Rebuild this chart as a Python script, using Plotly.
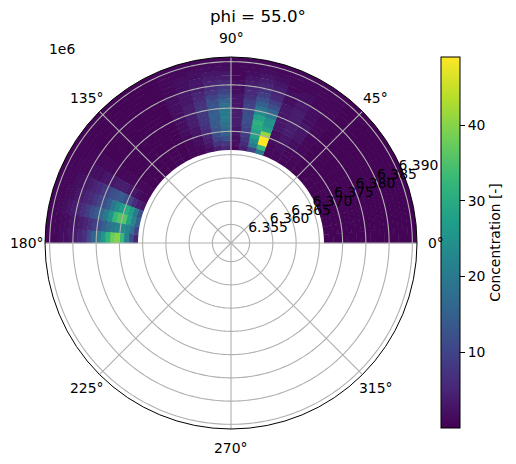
import math
import plotly.graph_objects as go

title_text = "phi = 55.0°"
offset_text = "1e6"
cbar_label = "Concentration [-]"
theta_step = 5
r_inner = 6.371
r_step = 0.001
radial_ticks = [6.355, 6.360, 6.365, 6.370, 6.375, 6.380, 6.385, 6.390]
angular_ticks = [0, 45, 90, 135, 180, 225, 270, 315]
cbar_ticks = [10, 20, 30, 40]

col_bg = [0.5] * 20
col_050 = [.8,.8,.8,1,1,1,1,1,1,1,1,1,1,1,1,1,.8,.8,.8,.7]
col_055 = [.8,1,1,1,2,2,3,3,3,3,2,2,2,2,1,1,1,1,.8,.8]
col_060 = [1,1,2,2,3,3,4,4,4,4,4,4,3,3,2,2,1,1,1,.8]
col_065 = [1,1,1,2,2,2,3,3,3,3,3,3,2,2,2,1,1,1,1,.8]
col_070 = [20,33,49,49,41,28,25,25,20,16,12,9,6,5,4,3,2,1.5,1,.8]
col_075 = [10,20,24,28,28,30,31,28,24,19,15,12,9,7,5,4,3,2,1.5,1]
col_080 = [4,6,8,9,10,11,12,12,11,10,9,7,6,5,4,3,2,1.5,1,1]
col_085 = [1,2,2,3,3,4,4,4,4,3,3,3,2,2,2,1,1,1,1,.8]
col_090 = [5,8,12,15,17,18,20,20,20,18,16,13,10,8,6,4,3,2,1.5,1]
col_095 = [4,7,10,12,13,14,14,15,14,13,12,10,8,6,5,4,3,2,1.5,1]
col_100 = [2,3,4,5,6,7,8,8,8,8,7,6,5,4,3,3,2,2,1,1]
col_105 = [1,1,2,2,3,3,4,4,4,4,4,3,3,3,2,2,2,1,1,1]
col_110 = [.8,.8,1,1,1,2,2,2,2,2,2,2,2,2,1,1,1,1,.8,.8]
col_145 = [.8,.8,1,1,1,1,1,1,1,1,1,1,1,.8,.8,.8,.7,.7,.7,.7]
col_150 = [1,1,2,3,3,4,4,4,3,3,3,2,2,2,1,1,1,.8,.8,.7]
col_155 = [3,4,6,10,12,14,13,12,10,8,6,5,4,3,2,2,1,1,.8,.8]
col_160 = [12,20,27,30,27,24,20,15,12,10,8,6,5,4,3,2,1.5,1,1,.8]
col_165 = [15,22,28,36,36,33,25,20,17,14,12,9,7,5,4,3,2,1.5,1,.8]
col_170 = [10,18,22,24,22,20,18,15,12,9,7,5,4,3,3,2,1.5,1,1,.8]
col_175 = [5,12,22,33,40,38,32,26,21,16,11,7,5,4,3,2,2,1,1,.8]

columns = [col_bg] * 10 + [col_050, col_055, col_060, col_065, col_070, col_075, col_080, col_085,
           col_090, col_095, col_100, col_105, col_110] + [col_bg] * 6 + [
           col_145, col_150, col_155, col_160, col_165, col_170, col_175]

R0, R1 = 6.351, 6.391
W, H = 516, 464
FONT = "DejaVu Sans"
GRID = "#b0b0b0"

thetas, bases, heights, values = [], [], [], []
for i, col in enumerate(columns):
    for j, v in enumerate(col):
        thetas.append((i + 0.5) * theta_step)
        b = r_inner + j * r_step
        bases.append(b)
        heights.append(min(b + 1.1 * r_step, R1) - b)   # slight overlap hides antialias seams
        values.append(v)

fig = go.Figure()
fig.add_trace(go.Barpolar(
    theta=thetas, r=heights, base=bases, width=[theta_step * 1.04] * len(values),
    marker=dict(color=values, coloraxis="coloraxis", line=dict(width=0)),
    hoverinfo="skip", showlegend=False))

ring_theta = list(range(0, 361))
for t in radial_ticks:
    fig.add_trace(go.Scatterpolar(r=[t] * len(ring_theta), theta=ring_theta, mode="lines",
                                  line=dict(color=GRID, width=1.1), hoverinfo="skip", showlegend=False))
for a in angular_ticks:
    fig.add_trace(go.Scatterpolar(r=[R0, R1], theta=[a, a], mode="lines",
                                  line=dict(color=GRID, width=1.1), hoverinfo="skip", showlegend=False))
fig.add_trace(go.Scatterpolar(
    r=radial_ticks, theta=[22.5] * len(radial_ticks), mode="text",
    text=[f"{t:.3f}" for t in radial_ticks], textposition="top right",
    textfont=dict(family=FONT, size=13.9, color="black"), hoverinfo="skip", showlegend=False))

# angular labels centred on a fixed radius around the polar centre, as in the reference
CX, CY, LABEL_R = 231, 243, 205
angle_notes = [
    dict(text=f"{a}°", x=(CX + LABEL_R * math.cos(math.radians(a))) / W,
         y=1 - (CY - LABEL_R * math.sin(math.radians(a))) / H,
         xref="paper", yref="paper", showarrow=False, xanchor="center", yanchor="middle",
         font=dict(family=FONT, size=13.9))
    for a in angular_ticks
]

fig.update_layout(
    width=W, height=H, margin=dict(l=0, r=0, t=0, b=0), paper_bgcolor="white",
    font=dict(family=FONT, size=13.9, color="black"), showlegend=False,
    polar=dict(
        domain=dict(x=[45 / W, 417 / W], y=[35 / H, 407 / H]),
        bgcolor="white", sector=[0, 360], bargap=0,
        radialaxis=dict(range=[R0, R1], showgrid=False, showline=False, ticks="", showticklabels=False),
        angularaxis=dict(direction="counterclockwise", rotation=0, showgrid=False, showline=True,
                         linecolor="black", linewidth=1, tickmode="array", tickvals=angular_ticks,
                         ticks="", showticklabels=False),
    ),
    coloraxis=dict(
        colorscale="Viridis", cmin=0, cmax=49,
        colorbar=dict(
            x=441 / W, xanchor="left", y=1 - 57 / H, yanchor="top", lenmode="fraction", len=371 / H,
            thickness=19, thicknessmode="pixels", outlinewidth=1, outlinecolor="black", xpad=0, ypad=0,
            tickmode="array", tickvals=cbar_ticks, ticks="outside", ticklen=5, tickwidth=1, tickcolor="black",
            tickfont=dict(family=FONT, size=13.9),
            title=dict(text=cbar_label, side="right", font=dict(family=FONT, size=13.9)),
        ),
    ),
    annotations=[
        dict(text=title_text, x=258 / W, y=1 - 16 / H, xref="paper", yref="paper", showarrow=False,
             xanchor="center", yanchor="middle", font=dict(family=FONT, size=16.7)),
        dict(text=offset_text, x=47 / W, y=1 - 49 / H, xref="paper", yref="paper", showarrow=False,
             xanchor="left", yanchor="middle", font=dict(family=FONT, size=13.9)),
    ] + angle_notes,
)
fig.write_html("out.html", config={"displayModeBar": False},
               post_script="document.body.style.margin='0';")
